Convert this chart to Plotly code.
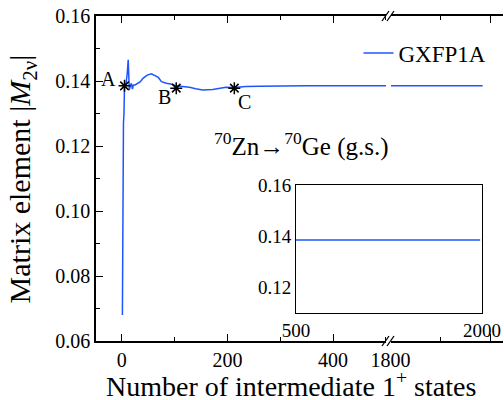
import plotly.graph_objects as go

# ---- data ----
n_states = [1, 2, 3, 4, 5, 7, 8, 10, 11, 12, 13, 14, 16, 18, 20, 22, 25, 30, 35, 40, 48, 56,
            62, 69, 75, 84, 95, 103, 115, 128, 140, 153, 172, 185, 197, 213, 235, 260, 298,
            350, 400, 450, 505, 1795, 1900, 1985]
m2v = [0.068, 0.125, 0.127, 0.130, 0.1385, 0.1390, 0.1395, 0.1420, 0.1455, 0.1465, 0.1420,
       0.1372, 0.1385, 0.1393, 0.1375, 0.1388, 0.1388, 0.1393, 0.1398, 0.1408, 0.1418, 0.1422,
       0.1418, 0.1411, 0.1398, 0.1393, 0.1390, 0.1385, 0.1383, 0.1381, 0.1376, 0.1372, 0.1374,
       0.1378, 0.1381, 0.1380, 0.1383, 0.1384, 0.1385, 0.1385, 0.1385, 0.1385, 0.1385, 0.1385,
       0.1385, 0.1385]
marker_n = [5, 103, 213]
marker_m = [0.1385, 0.1378, 0.1378]
marker_labels = ["A", "B", "C"]
series_name = "GXFP1A"

FONT = "Liberation Serif, Times New Roman, Times, serif"
BLUE = "#1f55ff"

fig = go.Figure()

fig.add_trace(go.Scatter(x=n_states, y=m2v, mode="lines", name=series_name,
                         line=dict(color=BLUE, width=1.5), xaxis="x", yaxis="y"))
fig.add_trace(go.Scatter(x=n_states, y=m2v, mode="lines", showlegend=False,
                         line=dict(color=BLUE, width=1.5), xaxis="x2", yaxis="y"))
fig.add_trace(go.Scatter(x=marker_n, y=marker_m, mode="markers", showlegend=False,
                         marker=dict(symbol="asterisk-open", size=10, color="black",
                                     line=dict(color="black", width=1.5)),
                         xaxis="x", yaxis="y"))
fig.add_trace(go.Scatter(x=n_states, y=m2v, mode="lines", showlegend=False,
                         line=dict(color=BLUE, width=1.5), xaxis="x3", yaxis="y3"))

axis_common = dict(showline=True, linecolor="black", linewidth=1.5, ticks="inside",
                   tickcolor="black", tickwidth=1.2, ticklen=7, showgrid=False,
                   zeroline=False, automargin=False,
                   tickfont=dict(family=FONT, size=20, color="black"))

split = 0.7174
fig.update_layout(
    width=504, height=400,
    margin=dict(l=96, r=1, t=16, b=59, autoexpand=False),
    paper_bgcolor="white", plot_bgcolor="white",
    font=dict(family=FONT, color="black"),
    xaxis=dict(domain=[0, split], range=[-49, 504], tickvals=[0, 200, 400],
               mirror="ticks", minor=dict(dtick=100, tick0=0, ticks="inside", ticklen=4,
                                          tickcolor="black", tickwidth=1.2),
               anchor="y", **axis_common),
    xaxis2=dict(domain=[split + 0.004, 1], range=[1798, 2026], tickvals=[1800, 2000],
                mirror="ticks", minor=dict(dtick=100, tick0=1800, ticks="inside", ticklen=4,
                                           tickcolor="black", tickwidth=1.2),
                anchor="y", **axis_common),
    yaxis=dict(domain=[0, 1], range=[0.06, 0.16], dtick=0.02, tickformat=".2f",
               anchor="x",
               minor=dict(dtick=0.01, ticks="inside", ticklen=4, tickcolor="black",
                          tickwidth=1.2),
               **axis_common),
    yaxis2=dict(overlaying="y", anchor="x2", side="right", range=[0.06, 0.16], dtick=0.02,
                showticklabels=False,
                minor=dict(dtick=0.01, ticks="inside", ticklen=4, tickcolor="black",
                           tickwidth=1.2),
                **axis_common),
    xaxis3=dict(domain=[0.4914, 0.9484], anchor="y3", range=[500, 2000],
                tickvals=[500, 2000], showline=True, mirror=True, linecolor="black",
                linewidth=1, ticks="", showgrid=False, zeroline=False, automargin=False,
                tickfont=dict(family=FONT, size=19, color="black")),
    yaxis3=dict(domain=[0.0862, 0.48], anchor="x3", range=[0.11, 0.16],
                tickvals=[0.12, 0.14, 0.16], tickformat=".2f", showline=True, mirror=True,
                linecolor="black", linewidth=1, ticks="", showgrid=False, zeroline=False,
                automargin=False,
                tickfont=dict(family=FONT, size=19, color="black")),
    legend=dict(x=0.645, y=0.886, xanchor="left", yanchor="middle",
                bgcolor="rgba(0,0,0,0)", font=dict(family=FONT, size=23, color="black")),
    showlegend=True,
)

label_pos = [(-16, -7), (-12, 9), (10, 14)]
for lbl, nx, my, (dx, dy) in zip(marker_labels, marker_n, marker_m, label_pos):
    fig.add_annotation(x=nx, y=my, xref="x", yref="y", text=lbl, showarrow=False,
                       xshift=dx, yshift=-dy, font=dict(family=FONT, size=20, color="black"))

# y title
fig.add_annotation(x=-0.182, y=0.5, xref="paper", yref="paper", textangle=-90,
                   text="Matrix element |<i>M</i><sub>2ν</sub>|", showarrow=False,
                   xanchor="center", yanchor="middle",
                   font=dict(family=FONT, size=30, color="black"))
# x title
fig.add_annotation(x=0.479, y=-0.133, xref="paper", yref="paper",
                   text="Number of intermediate 1<sup>+</sup> states", showarrow=False,
                   xanchor="center", yanchor="middle",
                   font=dict(family=FONT, size=28, color="black"))
# reaction label
fig.add_annotation(x=0.505, y=0.605, xref="paper", yref="paper",
                   text="<sup>70</sup>Zn→<sup>70</sup>Ge (g.s.)", showarrow=False,
                   xanchor="center", yanchor="middle",
                   font=dict(family=FONT, size=25, color="black"))

def px_to_paper_x(px):
    return (px - 96) / 407.0

def py_to_paper_y(py):
    return (341 - py) / 325.0

for (ya, yb) in ((8, 24), (70, 100), (333, 349)):
    fig.add_shape(type="rect", xref="paper", yref="paper",
                  x0=px_to_paper_x(386), x1=px_to_paper_x(391),
                  y0=py_to_paper_y(yb), y1=py_to_paper_y(ya),
                  fillcolor="white", line=dict(width=0), layer="above")
for ybase in (16, 341):
    for xoff in (0, 5):
        fig.add_shape(type="line", xref="paper", yref="paper",
                      x0=px_to_paper_x(382 + xoff), y0=py_to_paper_y(ybase + 5),
                      x1=px_to_paper_x(389 + xoff), y1=py_to_paper_y(ybase - 5),
                      line=dict(color="black", width=1.3), layer="above")

fig.write_html("out.html", config={"displayModeBar": False},
               post_script="document.body.style.margin='0px';"
                           "document.body.style.overflow='hidden';")
